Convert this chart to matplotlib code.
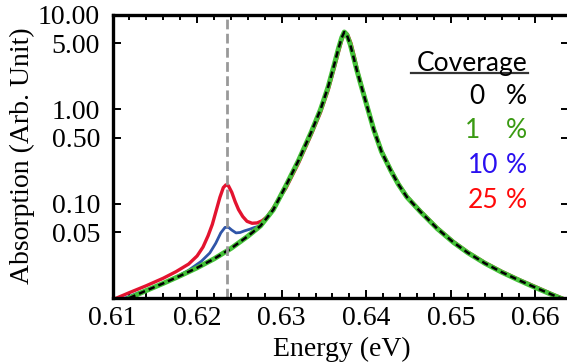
import numpy as np
import matplotlib; matplotlib.use("Agg")
import matplotlib.pyplot as plt
from matplotlib.lines import Line2D
from matplotlib.ticker import FixedLocator, MultipleLocator, NullLocator

# 0 % coverage (also 1 %, drawn on top of each other)
e_clean = [0.6120, 0.6140, 0.6160, 0.6180, 0.6200, 0.6220, 0.6240, 0.6260, 0.6275, 0.6290,
           0.6305, 0.6320, 0.6335, 0.6346, 0.6355, 0.6362, 0.6367, 0.6371, 0.6374, 0.6377,
           0.6381, 0.6385, 0.6389, 0.6393, 0.6400, 0.6409, 0.6418, 0.6429, 0.6438, 0.6448,
           0.6464, 0.6484, 0.6503, 0.6520, 0.6540, 0.6560, 0.6580, 0.6600, 0.6620, 0.6640]
a_clean = [0.0100, 0.0120, 0.0143, 0.0172, 0.0209, 0.0260, 0.0335, 0.0452, 0.0582, 0.0861,
           0.155, 0.288, 0.575, 1.00, 1.74, 2.95, 4.37, 5.75, 6.6, 6.17,
           4.9, 3.55, 2.57, 1.91, 1.15, 0.603, 0.355, 0.224, 0.160, 0.1175,
           0.0822, 0.0543, 0.0389, 0.0302, 0.0234, 0.0188, 0.0155, 0.0129, 0.0108, 0.0091]

# 10 % coverage, low-energy part (joins the clean curve from 0.6275 on)
e_10 = [0.6115, 0.6130, 0.6150, 0.6170, 0.6190, 0.6205, 0.6215, 0.6222, 0.6228, 0.6233,
        0.6237, 0.6241, 0.6246, 0.6251, 0.6256, 0.6262, 0.6268]
a_10 = [0.0100, 0.0113, 0.0131, 0.0157, 0.0197, 0.0245, 0.0300, 0.0380, 0.0490, 0.0560,
        0.0562, 0.0525, 0.0490, 0.0495, 0.0515, 0.0535, 0.0560]

# 25 % coverage
e_25 = [0.6105, 0.6120, 0.6140, 0.6160, 0.6175, 0.6190, 0.6200, 0.6207, 0.6213, 0.6218,
        0.6223, 0.6227, 0.6231, 0.6234, 0.6237, 0.6241, 0.6245, 0.6249, 0.6254, 0.6259,
        0.6265, 0.6271, 0.6277, 0.6283, 0.6290, 0.6305, 0.6320, 0.6335, 0.6346, 0.6355,
        0.6362, 0.6367, 0.6371, 0.6375, 0.6378, 0.6382, 0.6386, 0.6390, 0.6394, 0.6400,
        0.6409, 0.6418, 0.6429, 0.6438, 0.6448, 0.6464, 0.6484, 0.6503, 0.6520, 0.6540,
        0.6560, 0.6580, 0.6600, 0.6620, 0.6640]
a_25 = [0.0100, 0.0114, 0.0135, 0.0162, 0.0190, 0.0229, 0.0279, 0.0347, 0.0457, 0.0603,
        0.0871, 0.117, 0.148, 0.158, 0.155, 0.132, 0.105, 0.0865, 0.073, 0.065,
        0.062, 0.0625, 0.066, 0.073, 0.090, 0.146, 0.270, 0.54, 0.93, 1.60,
        2.70, 4.0, 5.4, 6.6, 6.2, 5.0, 3.6, 2.5, 1.85, 1.18,
        0.62, 0.365, 0.23, 0.164, 0.120, 0.084, 0.0555, 0.0397, 0.0308, 0.0239,
        0.0192, 0.0158, 0.0132, 0.0110, 0.0093]

e_line = 0.6235
coverages = ["0", "1", "10", "25"]
yticks = [0.05, 0.1, 0.5, 1.0, 5.0, 10.0]

W, H = 567, 363
fig = plt.figure(figsize=(W / 100, H / 100), dpi=100)
ax = fig.add_axes([112.5 / W, 1 - 298 / H, 456.8 / W, 283 / H])

tail = [i for i, e in enumerate(e_clean) if e >= 0.6275]
e_blue = e_10 + [e_clean[i] for i in tail]
a_blue = a_10 + [a_clean[i] for i in tail]

ax.plot(e_25, a_25, color="#e3132f", lw=2.4, solid_joinstyle="round")
ax.plot(e_blue, a_blue, color="#2f55a8", lw=2.0, solid_joinstyle="round")
ax.plot(e_clean, a_clean, color="#44c238", lw=3.6, solid_joinstyle="round")
ax.plot(e_clean, a_clean, color="black", lw=1.8, dashes=(2.6, 1.6))
ax.axvline(e_line, color="#999999", lw=2.0, dashes=(3.5, 1.6))

ax.set_yscale("log")
ax.set_xlim(0.61, 0.664)
ax.set_ylim(0.01, 10)
ax.yaxis.set_major_locator(FixedLocator(yticks))
ax.yaxis.set_minor_locator(NullLocator())
ax.set_yticklabels([f"{v:.2f}" for v in yticks])
ax.xaxis.set_major_locator(MultipleLocator(0.01))
ax.xaxis.set_minor_locator(MultipleLocator(0.002))
ax.xaxis.set_major_formatter(plt.FuncFormatter(lambda v, p: f"{v:.2f}"))

serif = ["Liberation Serif", "DejaVu Serif"]
for lab in ax.get_xticklabels() + ax.get_yticklabels():
    lab.set_fontfamily(serif)
    lab.set_fontsize(20)
ax.tick_params(which="both", direction="in", top=True, right=True, width=1.4, colors="black")
ax.tick_params(which="major", length=6)
ax.tick_params(which="minor", length=3.5)
ax.tick_params(axis="y", pad=9)
ax.tick_params(axis="x", pad=6)
for sp in ax.spines.values():
    sp.set_linewidth(2.4)

fig.text(22 / W, 1 - 156 / H, "Absorption (Arb. Unit)", rotation=90, ha="center", va="center",
         family=serif, fontsize=20)
fig.text(342 / W, 1 - 349 / H, "Energy (eV)", ha="center", va="center", family=serif, fontsize=20)

sans = ["Lato", "DejaVu Sans"]
fig.text(528 / W, 1 - 63 / H, "Coverage", ha="right", va="center", family=sans, fontsize=19)
fig.add_artist(Line2D([411 / W, 528 / W], [1 - 73 / H, 1 - 73 / H], color="#333333", lw=1.6,
                      transform=fig.transFigure))
colors = ["black", "#3a9a12", "#2a10f0", "#ff0a0a"]
rows = [96, 131, 165, 200]
num_right = [484, 480, 498, 498]
for c, col, y, xr in zip(coverages, colors, rows, num_right):
    fig.text(xr / W, 1 - y / H, c, ha="right", va="center", family=sans, fontsize=19, color=col)
    fig.text(527 / W, 1 - y / H, "%", ha="right", va="center", family=sans, fontsize=19, color=col)

fig.savefig("out.png", dpi=100)
